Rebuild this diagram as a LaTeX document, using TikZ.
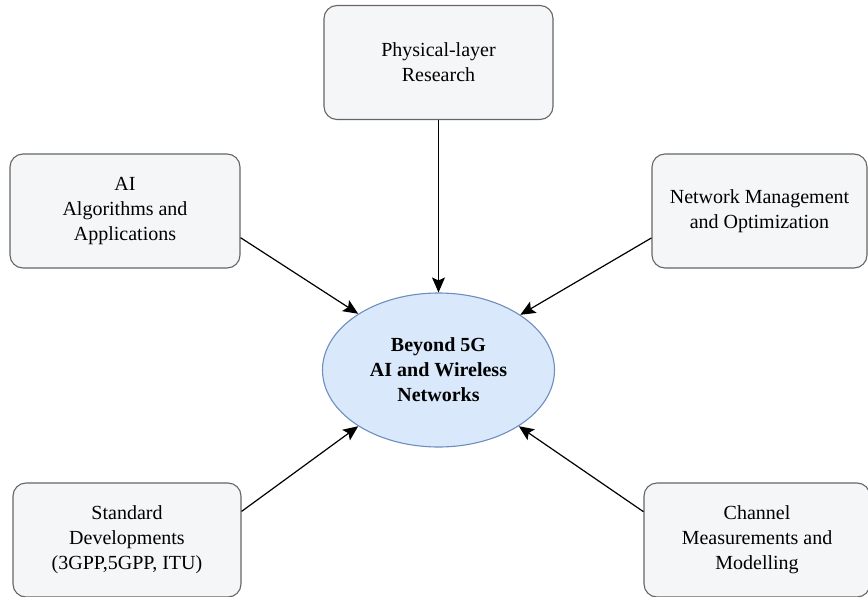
\documentclass[tikz,border=0pt]{standalone}
\usepackage{fontspec}
\setmainfont{Liberation Serif}
\usetikzlibrary{arrows.meta, shapes.geometric}
\definecolor{boxfill}{HTML}{F5F6F8}
\definecolor{boxline}{HTML}{666666}
\definecolor{corefill}{HTML}{DAE8FC}
\definecolor{coreline}{HTML}{6C8EBF}
\tikzset{
    topic/.style={draw=boxline, fill=boxfill, line width=1.1pt, rounded corners=13pt,
      minimum height=114pt, align=center, font=\fontsize{20}{25}\selectfont},
    core/.style={ellipse, draw=coreline, fill=corefill, line width=1.1pt,
      minimum width=232pt, minimum height=154pt, inner sep=0pt, align=center,
      font=\fontsize{20}{25}\selectfont\bfseries},
    link/.style={-{Stealth[length=15pt, width=13pt, inset=3pt]}, line width=1.2pt, black},
}
\begin{document}
\begin{tikzpicture}[x=1pt, y=-1pt]
    \useasboundingbox (0,0) rectangle (868,597);

    \node[core] (core) at (438.5,370) {Beyond 5G\\AI and Wireless\\Networks};

    \node[topic, minimum width=229pt] (phy) at (438.5,62.5) {Physical-layer\\Research};
    \node[topic, minimum width=230pt] (ai) at (125,211) {AI\\Algorithms and\\Applications};
    \node[topic, minimum width=215pt] (net) at (759.5,211) {Network Management\\and Optimization};
    \node[topic, minimum width=228pt] (std) at (127,540) {Standard\\Developments\\(3GPP,5GPP, ITU)};
    \node[topic, minimum width=226pt] (chan) at (757,540) {Channel\\Measurements and\\Modelling};

    \draw (phy.south) edge[link] (core.north);
    \draw (ai.-13) edge[link] (core.145);
    \draw (net.-166) edge[link] (core.34);
    \draw (std.14) edge[link] (core.215);
    \draw (chan.166) edge[link] (core.-35);
\end{tikzpicture}
\end{document}
